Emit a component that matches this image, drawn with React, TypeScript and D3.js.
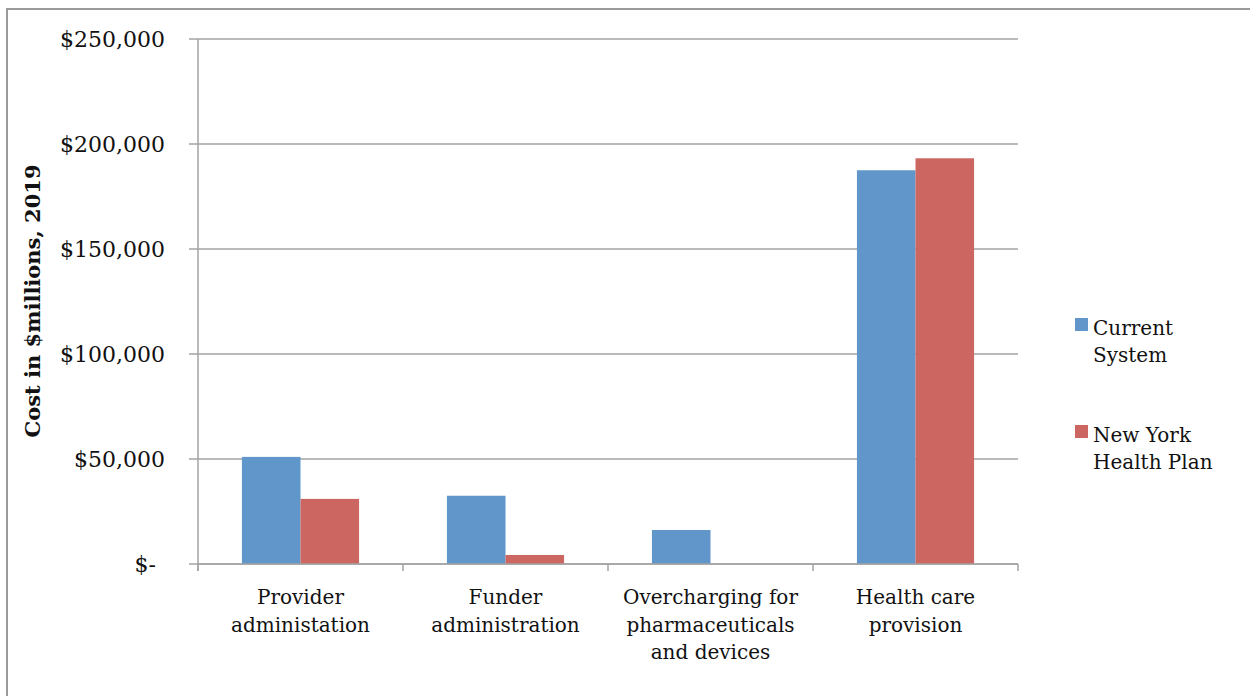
import * as d3 from 'd3';

const categories = [
  ['Provider', 'administation'],
  ['Funder', 'administration'],
  ['Overcharging for', 'pharmaceuticals', 'and devices'],
  ['Health care', 'provision'],
];
const seriesNames = ['Current System', 'New York Health Plan'];
const legendLines = [['Current', 'System'], ['New York', 'Health Plan']];
const currentSystem = [51000, 32500, 16200, 187500];
const newYorkHealthPlan = [31000, 4300, 0, 193200];
const yTicks = [0, 50000, 100000, 150000, 200000, 250000];

const colors = ['#6096ca', '#cc6660'];
const font = '"DejaVu Serif", "Liberation Serif", serif';

export default function App() {
  const width = 1250;
  const height = 696;
  const margin = { left: 198, right: 232, top: 39, bottom: 132 };

  const keys = categories.map((c) => c.join(' '));
  const x0 = d3.scaleBand<string>()
    .domain(keys)
    .range([margin.left, width - margin.right])
    .padding(0);
  const x1 = d3.scaleBand<string>()
    .domain(seriesNames)
    .range([0, x0.bandwidth()])
    .paddingInner(0)
    .paddingOuter(0.75);
  const y = d3.scaleLinear()
    .domain([0, 250000])
    .range([height - margin.bottom, margin.top]);

  const fmt = (v: number) => (v === 0 ? '$-' : '$' + d3.format(',')(v));
  const values = [currentSystem, newYorkHealthPlan];
  const y0 = y(0);
  const gridColor = '#a3a3a3';

  return (
    <svg
      width={width}
      height={height}
      style={{ position: 'absolute', left: 0, top: 0, background: '#fff' }}
    >
      {/* outer frame */}
      <rect x={7} y={9} width={width + 20} height={height + 20} fill="none" stroke="#9a9a9a" strokeWidth={2} />

      {/* gridlines + y ticks */}
      {yTicks.map((t) => (
        <g key={t}>
          <line x1={margin.left - 9} x2={width - margin.right} y1={y(t)} y2={y(t)} stroke={gridColor} strokeWidth={1.5} />
          <text
            x={t === 0 ? 156 : 165}
            y={y(t)}
            dy="0.35em"
            textAnchor="end"
            fontFamily={font}
            fontSize={22}
            fill="#111"
          >
            {fmt(t)}
          </text>
        </g>
      ))}

      {/* bars */}
      {keys.map((k, i) => (
        <g key={k} transform={`translate(${x0(k)},0)`}>
          {seriesNames.map((s, j) => (
            <rect
              key={s}
              x={x1(s)}
              y={y(values[j][i])}
              width={x1.bandwidth()}
              height={y0 - y(values[j][i])}
              fill={colors[j]}
            />
          ))}
        </g>
      ))}

      {/* axes */}
      <line x1={margin.left} x2={margin.left} y1={margin.top} y2={y0 + 7} stroke={gridColor} strokeWidth={1.5} />
      <line x1={margin.left} x2={width - margin.right} y1={y0} y2={y0} stroke={gridColor} strokeWidth={1.5} />
      {[...keys.map((k) => x0(k) as number), width - margin.right].map((xv) => (
        <line key={xv} x1={xv} x2={xv} y1={y0} y2={y0 + 7} stroke={gridColor} strokeWidth={1.5} />
      ))}

      {/* category labels */}
      {categories.map((lines, i) => (
        <text
          key={i}
          x={(x0(keys[i]) as number) + x0.bandwidth() / 2}
          y={604}
          textAnchor="middle"
          fontFamily={font}
          fontSize={20}
          fill="#111"
        >
          {lines.map((l, li) => (
            <tspan key={li} x={(x0(keys[i]) as number) + x0.bandwidth() / 2} dy={li === 0 ? 0 : 27.5}>
              {l}
            </tspan>
          ))}
        </text>
      ))}

      {/* y axis title */}
      <text
        transform="translate(40,301) rotate(-90)"
        textAnchor="middle"
        fontFamily={font}
        fontWeight="bold"
        fontSize={21}
        fill="#111"
      >
        Cost in $millions, 2019
      </text>

      {/* legend */}
      {legendLines.map((lines, i) => (
        <g key={i} transform={`translate(1075,${318 + i * 107})`}>
          <rect width={13} height={13} fill={colors[i]} />
          <text x={18} y={17} fontFamily={font} fontSize={20} fill="#111">
            {lines.map((l, li) => (
              <tspan key={li} x={18} dy={li === 0 ? 0 : 27}>
                {l}
              </tspan>
            ))}
          </text>
        </g>
      ))}
    </svg>
  );
}
